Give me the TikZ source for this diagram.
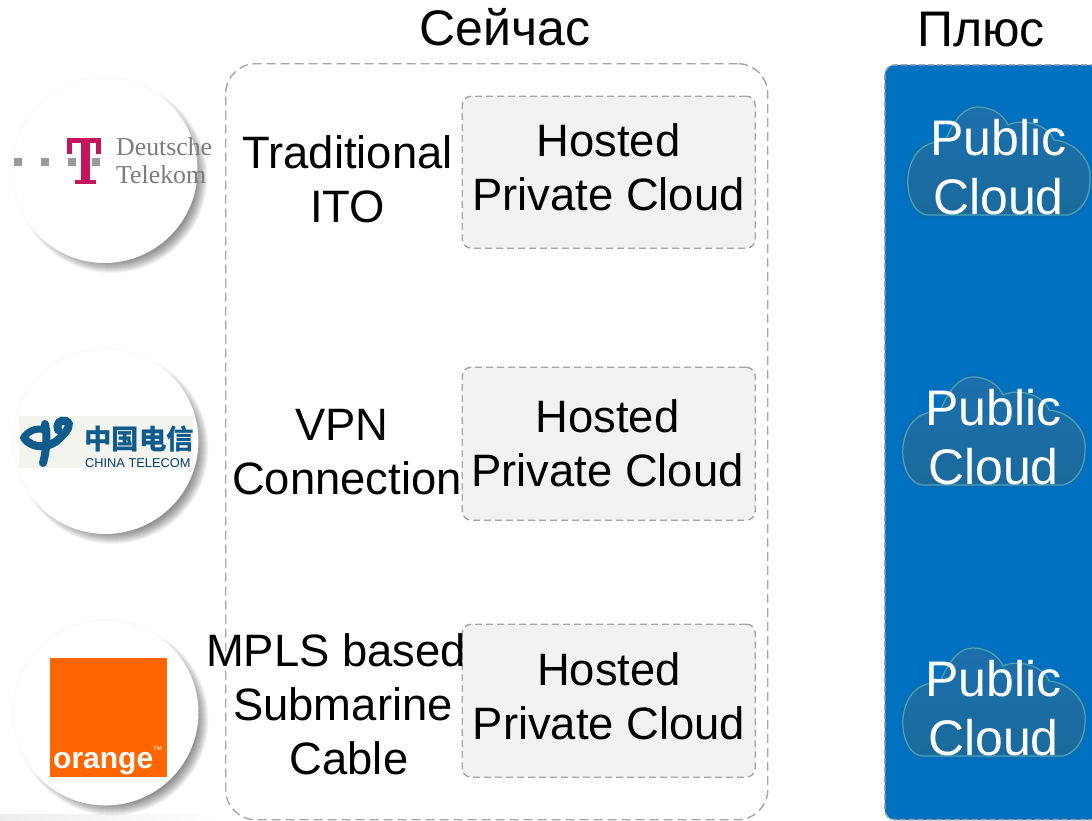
\documentclass[tikz,border=0pt]{standalone}
\usepackage{fontspec}
\setmainfont{Liberation Sans}
\newfontfamily\serifface{Liberation Serif}
\newfontfamily\cjkface{Noto Sans CJK SC}
\definecolor{dashgray}{HTML}{A6A6A6}
\definecolor{panelgray}{HTML}{F2F2F2}
\definecolor{cloudblue}{HTML}{0070C0}
\definecolor{cloudedge}{HTML}{4FA3B5}
\definecolor{cloudtop}{HTML}{1C6FAC}
\definecolor{cloudbot}{HTML}{1A6A9C}
\definecolor{dtgray}{HTML}{7C7C7C}
\definecolor{dtsq}{HTML}{9A9A9A}
\definecolor{dtpink}{HTML}{C4145F}
\definecolor{ctblue}{HTML}{0F5C8C}
\definecolor{ctback}{HTML}{F3F4EE}
\definecolor{orangelogo}{HTML}{FF6600}
\tikzset{
  x=1pt,y=-1pt,
  txt/.style={align=center,inner sep=0pt,font=\fontsize{45.4}{54}\selectfont,text=black},
  cloudtxt/.style={align=center,inner sep=0pt,font=\fontsize{50}{59}\selectfont,text=white},
  head/.style={inner sep=0pt,font=\fontsize{50}{60}\selectfont,text=black},
  panel/.style={draw=dashgray,fill=panelgray,line width=1.4pt,dash pattern=on 7pt off 4pt,rounded corners=9pt},
  disc/.style={fill=white},
}
\newcommand{\logodisc}[2]{%
  \foreach \r in {96,95,94,93,92,91,90,89,88,87,86,85}{
    \fill[black,opacity=.045] (#1+7,#2+7) circle (\r);
  }
  \fill[black!2] (#1,#2) circle (93);
  \fill[disc] (#1,#2) circle (92);
}
\newcommand{\cloudpath}{%
      (927,215) .. controls (905,212) and (900,165) .. (922,148)
      .. controls (928,143) and (940,141) .. (946,139)
      .. controls (955,118) and (965,107) .. (978,107)
      .. controls (992,107) and (1004,115) .. (1008,125)
      .. controls (1022,118) and (1048,124) .. (1054,140)
      .. controls (1075,142) and (1092,160) .. (1090,180)
      .. controls (1090,200) and (1080,212) .. (1068,215) -- cycle}
\newcommand{\cloudshape}[2]{%
  \begin{scope}[shift={(#1,#2)}]
    \path[draw=cloudbot,line width=6pt,opacity=.3] \cloudpath;
    \path[draw=cloudedge,line width=1.2pt,top color=cloudtop,bottom color=cloudbot] \cloudpath;
  \end{scope}%
}
\begin{document}
\begin{tikzpicture}
\useasboundingbox (0,0) rectangle (1092,820);
\fill[white] (0,0) rectangle (1092,820);
\shade[left color=black!7,right color=white] (0,814) rectangle (225,820);

% outer frames
\node[draw=dashgray,line width=1.4pt,dash pattern=on 9pt off 5pt,rounded corners=30pt,minimum width=542pt,minimum height=756pt,inner sep=0pt,anchor=north west] (frame) at (225,63) {};
\node[draw=dashgray,fill=cloudblue,line width=1.6pt,dash pattern=on 6pt off 3pt,rounded corners=10pt,minimum width=230pt,minimum height=755pt,inner sep=0pt,anchor=north west] (rightpanel) at (884,64) {};

% headings
\node[head] (now) at (505,27) {Сейчас};
\node[head] (plus) at (981,30) {Плюс};

% hosted panels
\node[panel,minimum width=293pt,minimum height=152pt,inner sep=0pt,anchor=north west] (p1) at (461.5,95.5) {};
\node[panel,minimum width=293pt,minimum height=153pt,inner sep=0pt,anchor=north west] (p2) at (461.5,366.5) {};
\node[panel,minimum width=293pt,minimum height=153pt,inner sep=0pt,anchor=north west] (p3) at (461.5,623.5) {};
\node[txt] (h1) at (608.5,167) {Hosted\\Private Cloud};
\node[txt] (h2) at (607.5,443) {Hosted\\Private Cloud};
\node[txt] (h3) at (609,696) {Hosted\\Private Cloud};

% middle labels
\node[txt] (l1) at (347.5,179) {Traditional\\ITO};
\node[txt] (l2) at (347,452) {\hspace*{-10pt}VPN\\Connection};
\node[txt] (l3) at (336,704) {MPLS based\\\hspace*{14pt}Submarine\\\hspace*{26pt}Cable};

% clouds
\cloudshape{0}{0}
\cloudshape{-5}{270}
\cloudshape{-5}{541}
\node[cloudtxt] (c1) at (998.5,167) {Public\\Cloud};
\node[cloudtxt] (c2) at (993.5,437) {Public\\Cloud};
\node[cloudtxt] (c3) at (993.5,708) {Public\\Cloud};

% discs
\logodisc{104.5}{170}
\logodisc{105.5}{441}
\logodisc{105.5}{712.5}

% Deutsche Telekom logo
\foreach \sx in {14,41,68,92}{\fill[dtsq] (\sx,158) rectangle +(8,8);}
\fill[dtpink] (67,138) rectangle (101,143);
\fill[dtpink] (67,138) -- (72,138) -- (72,154) -- (67,154) -- cycle;
\fill[dtpink] (96,138) -- (101,138) -- (101,154) -- (96,154) -- cycle;
\fill[dtpink] (81,138) rectangle (90,183);
\fill[dtpink] (75,180) rectangle (96,184);
\node[anchor=base west,inner sep=0pt,text=dtgray,font=\serifface\fontsize{25.8}{30}\selectfont] (dt1) at (116,155.5) {Deutsche};
\node[anchor=base west,inner sep=0pt,text=dtgray,font=\serifface\fontsize{25.8}{30}\selectfont] (dt2) at (116,183) {Telekom};

% China Telecom logo
\fill[ctback] (19,416) rectangle (193,468);
\draw[ctblue,line width=7pt,line cap=round] (24,437) .. controls (30,429) and (40,427) .. (47,431);
\draw[ctblue,line width=8pt,line cap=round] (45,424) .. controls (48,438) and (46,452) .. (43,463);
\draw[ctblue,line width=8pt,line cap=round] (24,438) .. controls (32,449) and (50,449) .. (60,438) .. controls (68,430) and (72,424) .. (66,421) .. controls (60,419) and (56,424) .. (58,430);
\node[anchor=base west,inner sep=0pt,text=ctblue,font=\cjkface\bfseries\fontsize{27.5}{30}\selectfont] (ct1) at (84,449) {中国电信};
\node[anchor=base west,inner sep=0pt,text=ctblue!70!black,font=\fontsize{12.8}{14}\selectfont] (ct2) at (85,467) {CHINA TELECOM};

% Orange logo
\fill[orangelogo] (50,658) rectangle (167,777);
\node[anchor=base west,inner sep=0pt,text=white,font=\bfseries\fontsize{30}{32}\selectfont] (or1) at (53,768) {orange};
\node[anchor=base west,inner sep=0pt,text=white,font=\fontsize{6}{7}\selectfont] (or2) at (153,750) {TM};
\end{tikzpicture}
\end{document}
